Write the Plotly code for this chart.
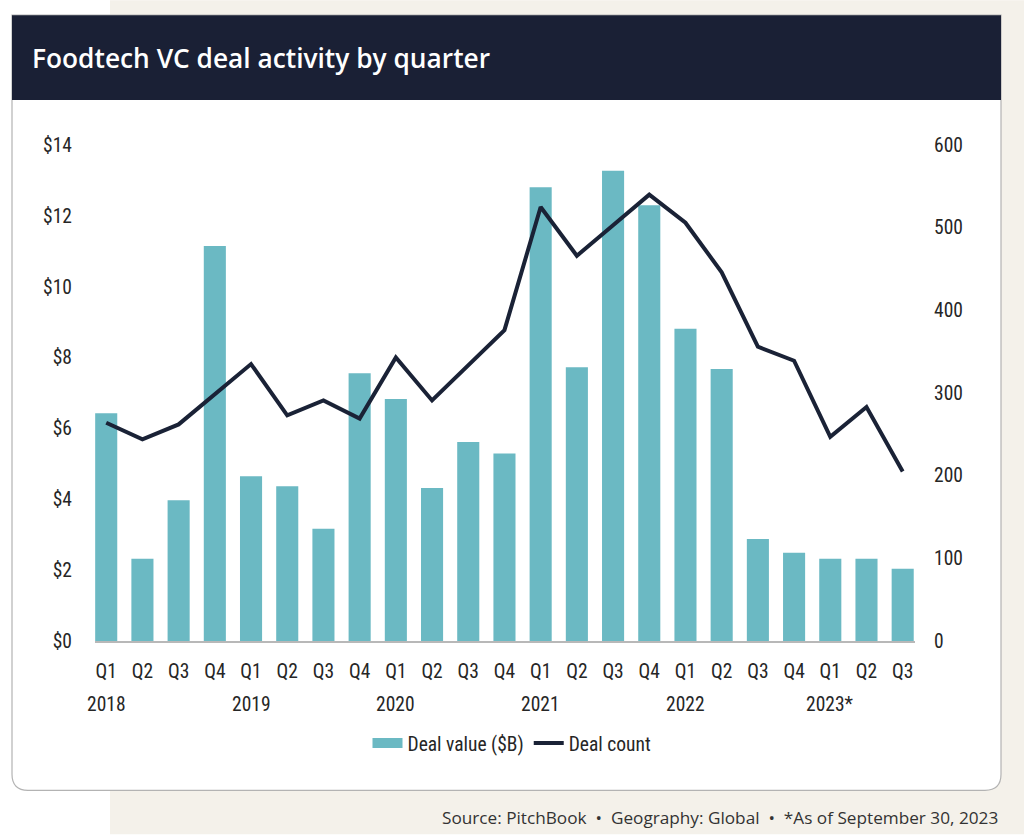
import plotly.graph_objects as go

# ---- data ----
years = ["2018", "2019", "2020", "2021", "2022", "2023*"]
quarter_labels = ["Q1", "Q2", "Q3", "Q4"] * 5 + ["Q1", "Q2", "Q3"]
categories = [f"{y} {q}" for y in years[:5] for q in ["Q1", "Q2", "Q3", "Q4"]] + \
             [f"2023* {q}" for q in ["Q1", "Q2", "Q3"]]
deal_value = [6.43, 2.32, 3.97, 11.15, 4.65, 4.37, 3.17, 7.56, 6.83, 4.32, 5.62, 5.29,
              12.81, 7.73, 13.27, 12.30, 8.81, 7.68, 2.88, 2.49, 2.32, 2.32, 2.04]
deal_count = [264, 244, 262, 298, 335, 273, 291, 269, 343, 291, 333, 376,
              525, 466, 503, 540, 506, 446, 356, 339, 247, 283, 205]
left_ticks = [0, 2, 4, 6, 8, 10, 12, 14]
left_ticktext = [f"${v}" for v in left_ticks]
right_ticks = [0, 100, 200, 300, 400, 500, 600]

# ---- style ----
W, H = 1024, 835
PL, PR, PT, PB = 95, 915, 145, 641.5
TEAL = "#6bb9c3"
NAVY = "#1a2236"
BEIGE = "#f4f1ea"
COND = "Liberation Sans Narrow, Roboto Condensed, Arial Narrow, sans-serif"
TXT = "#262626"
FS = 19.5


def px(x):
    return (x - PL) / (PR - PL)


def py(y):
    return (PB - y) / (PB - PT)


fig = go.Figure()
fig.add_trace(go.Bar(x=categories, y=deal_value, marker_color=TEAL, marker_line_width=0,
                     name="Deal value ($B)", showlegend=False, yaxis="y"))
fig.add_trace(go.Scatter(x=[None], y=[None], mode="lines", line=dict(color=TEAL, width=11),
                         name="Deal value ($B)", yaxis="y"))
fig.add_trace(go.Scatter(x=categories, y=deal_count, mode="lines", line=dict(color=NAVY, width=4),
                         name="Deal count", yaxis="y2"))

# background shapes
shapes = []
shapes.append(dict(type="rect", xref="paper", yref="paper", x0=px(110), x1=px(W), y0=py(H), y1=py(0),
                   fillcolor=BEIGE, line_width=0, layer="below"))
r = 16
cx0, cx1, cy0, cy1 = 12, 1001, 15, 791
path = (f"M {px(cx0)},{py(cy0)} L {px(cx1)},{py(cy0)} L {px(cx1)},{py(cy1 - r)} "
        f"Q {px(cx1)},{py(cy1)} {px(cx1 - r)},{py(cy1)} L {px(cx0 + r)},{py(cy1)} "
        f"Q {px(cx0)},{py(cy1)} {px(cx0)},{py(cy1 - r)} Z")
shapes.append(dict(type="path", xref="paper", yref="paper", path=path, fillcolor="white",
                   line=dict(color="#b3b3b3", width=1.2), layer="below"))
shapes.append(dict(type="rect", xref="paper", yref="paper", x0=px(cx0), x1=px(cx1), y0=py(100), y1=py(cy0),
                   fillcolor="#1a2035", line_width=0, layer="below"))

annotations = []
annotations.append(dict(text="Foodtech VC deal activity by quarter", xref="paper", yref="paper",
                        x=px(30), y=py(58), xanchor="left", yanchor="middle", showarrow=False,
                        font=dict(family="Open Sans", size=26.3, color="white", weight=600)))
annotations.append(dict(text="Source: PitchBook  \u2022  Geography: Global  \u2022  *As of September 30, 2023",
                        xref="paper", yref="paper", x=px(1000), y=py(818), xanchor="right",
                        yanchor="middle", showarrow=False,
                        font=dict(family="Open Sans", size=17.2, color="#333333")))
for i, yr in enumerate(years):
    annotations.append(dict(text=yr, xref="x", yref="paper", x=categories[i * 4], y=py(705),
                            xanchor="center", yanchor="middle", showarrow=False,
                            font=dict(family=COND, size=FS, color=TXT)))

fig.update_layout(
    width=W, height=H,
    margin=dict(l=PL, r=W - PR, t=PT, b=H - PB, pad=0),
    paper_bgcolor="white", plot_bgcolor="rgba(0,0,0,0)",
    bargap=0.39,
    shapes=shapes, annotations=annotations,
    showlegend=True,
    legend=dict(orientation="h", x=px(512), y=py(744), xanchor="center", yanchor="middle",
                font=dict(family=COND, size=FS, color=TXT), bgcolor="rgba(0,0,0,0)",
                itemwidth=30, tracegroupgap=0),
    xaxis=dict(type="category", categoryorder="array", categoryarray=categories,
               range=[-0.31, 22.34], tickmode="array", tickvals=categories, ticktext=quarter_labels,
               showgrid=False, zeroline=False, showline=True, linecolor="#b8b8b8", linewidth=1.5,
               ticks="", ticklabelstandoff=12, tickfont=dict(family=COND, size=FS, color=TXT)),
    yaxis=dict(range=[0, 14], tickvals=left_ticks, ticktext=left_ticktext, showgrid=False,
               zeroline=False, showline=False, ticks="", ticklabelstandoff=22,
               tickfont=dict(family=COND, size=FS, color=TXT)),
    yaxis2=dict(range=[0, 600], tickvals=right_ticks, overlaying="y", side="right", showgrid=False,
                zeroline=False, showline=False, ticks="", ticklabelstandoff=18,
                tickfont=dict(family=COND, size=FS, color=TXT)),
)

fig.write_html("out.html", config={"displayModeBar": False},
               post_script="document.body.style.margin='0';")
